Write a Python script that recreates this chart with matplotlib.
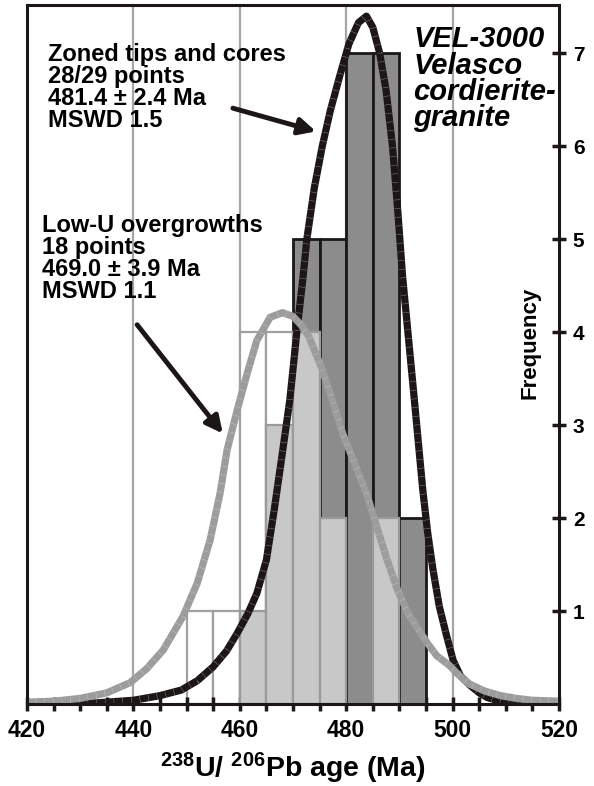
import matplotlib
matplotlib.use("Agg")
import matplotlib.pyplot as plt

plt.rcParams['font.family'] = ['Liberation Sans', 'DejaVu Sans']
plt.rcParams['font.weight'] = 'bold'
plt.rcParams['mathtext.default'] = 'regular'

# histogram bins (left edges, width 5 Ma)
bin_left = [450, 455, 460, 465, 470, 475, 480, 485, 490]
outline_counts = [1, 1, 4, 4, 0, 0, 0, 0, 0]
lowu_counts = [0, 0, 1, 3, 4, 2, 0, 2, 0]
zoned_counts = [0, 0, 0, 0, 5, 5, 7, 7, 2]

# probability curve of zoned tips and cores
zoned_x = [420, 430, 440, 445, 449, 452, 455, 457.5, 459.5, 461.5, 463.2, 465,
           466.5, 468, 469.4, 470.7, 471.9, 472.6, 474, 475.5, 477, 478.8,
           480.5, 482.3, 483.8, 485, 486.3, 487.5, 488.7, 489.7, 490.6, 491.6,
           492.6, 493.5, 494.4, 495.3, 496.3, 497.5, 498.8, 500.1, 501.5,
           503.3, 505, 506.5, 509.5, 515, 520]
zoned_y = [0.0, 0.0, 0.04, 0.09, 0.15, 0.25, 0.40, 0.57, 0.76, 0.97, 1.19, 1.55,
           2.1, 2.7, 3.27, 3.99, 4.6, 5.0, 5.55, 6.0, 6.38, 6.76,
           7.1, 7.33, 7.4, 7.28, 7.0, 6.6, 6.0, 5.3, 4.6, 4.0,
           3.4, 2.85, 2.3, 1.85, 1.45, 1.05, 0.75, 0.47, 0.3,
           0.2, 0.12, 0.07, 0.02, 0.0, 0.0]

# probability curve of low-U overgrowths
lowu_x = [420, 425, 430, 435, 439.4, 442.5, 445.6, 449.3, 452, 454.4, 456.3,
          457.6, 459.5, 461.4, 463.2, 465.7, 468, 470, 471.5, 473, 475.5,
          477.5, 479.4, 481.5, 483.9, 485.5, 487.7, 489.5, 491.4, 493, 495.2,
          497, 499.3, 501, 503, 506, 509, 512, 515, 520]
lowu_y = [0.02, 0.03, 0.06, 0.12, 0.23, 0.38, 0.58, 0.94, 1.30, 1.76, 2.27,
          2.73, 3.16, 3.56, 3.91, 4.16, 4.21, 4.17, 4.08, 3.95, 3.6,
          3.25, 2.9, 2.6, 2.25, 1.95, 1.55, 1.25, 1.0, 0.85, 0.66,
          0.52, 0.42, 0.32, 0.22, 0.14, 0.09, 0.06, 0.04, 0.03]

xticks = [420, 440, 460, 480, 500, 520]
yticks = [1, 2, 3, 4, 5, 6, 7]

fig = plt.figure(figsize=(5.94, 7.86), dpi=100)
ax = fig.add_axes([27 / 594, 1 - 704 / 786, 532 / 594, 699 / 786])

for g in [440, 460, 480, 500]:
    ax.axvline(g, color="#a6a6a6", lw=1.6, zorder=0)


def bars(counts, face, edge, lw, z):
    xs = [b for b, c in zip(bin_left, counts) if c > 0]
    hs = [c for c in counts if c > 0]
    ax.bar(xs, hs, width=5, align="edge", color=face, edgecolor=edge,
           linewidth=lw, zorder=z)


bars(outline_counts, "white", "#a0a0a0", 1.6, 1)
bars(zoned_counts, "#8c8c8c", "#1c1818", 2.0, 2)
bars(lowu_counts, "#c8c8c8", "#9a9a9a", 1.6, 3)

ax.plot(zoned_x, zoned_y, color="#1c1616", lw=5.2, zorder=4,
        solid_capstyle="butt")
ax.plot(zoned_x, zoned_y, color="white", lw=4.6, zorder=4.1,
        linestyle=(0, (0.06, 1.3)), alpha=0.6)
ax.plot(lowu_x, lowu_y, color="#9c9c9c", lw=5.2, zorder=5,
        solid_capstyle="butt")
ax.plot(lowu_x, lowu_y, color="white", lw=4.6, zorder=5.1,
        linestyle=(0, (0.06, 1.3)), alpha=0.5)

arrow = dict(arrowstyle="-|>,head_length=1.0,head_width=0.5", lw=3.5,
             color="#1c1616", shrinkA=0, shrinkB=0)
ax.annotate("", xy=(474.3, 6.16), xytext=(458.7, 6.41), arrowprops=arrow,
            zorder=6)
ax.annotate("", xy=(456.8, 2.91), xytext=(440.7, 4.08), arrowprops=arrow,
            zorder=6)

ax.text(424.0, 7.11, "Zoned tips and cores\n28/29 points\n481.4 ± 2.4 Ma\nMSWD 1.5",
        fontsize=17, fontweight="bold", va="top", ha="left", linespacing=0.95,
        zorder=7)
ax.text(422.8, 5.27, "Low-U overgrowths\n18 points\n469.0 ± 3.9 Ma\nMSWD 1.1",
        fontsize=17, fontweight="bold", va="top", ha="left", linespacing=0.95,
        zorder=7)
ax.text(492.6, 7.30, "VEL-3000\nVelasco\ncordierite-\ngranite",
        fontsize=21, fontweight="bold", fontstyle="italic", va="top",
        ha="left", linespacing=0.92, zorder=7)
ax.text(514.5, 3.89, "Frequency", fontsize=16, fontweight="bold",
        rotation=90, ha="center", va="center", zorder=7)

ax.set_xlim(420, 520)
ax.set_ylim(0, 7.52)
ax.set_xticks(xticks)
ax.set_xticks(range(420, 521, 5), minor=True)
ax.yaxis.tick_right()
ax.set_yticks(yticks)
ax.tick_params(axis="x", which="both", direction="inout", length=10,
               width=2.5, color="#1c1616", labelsize=16.5, pad=6)
ax.tick_params(axis="y", which="both", direction="inout", length=10,
               width=2.5, color="#1c1616", labelsize=15, pad=5)
for s in ax.spines.values():
    s.set_linewidth(2.2)
    s.set_color("#1c1616")
    s.set_zorder(8)

ax.set_xlabel(r"$^{238}$U/ $^{206}$Pb age (Ma)", fontsize=20.5,
              fontweight="bold", labelpad=6)

fig.savefig("out.png", dpi=100)
